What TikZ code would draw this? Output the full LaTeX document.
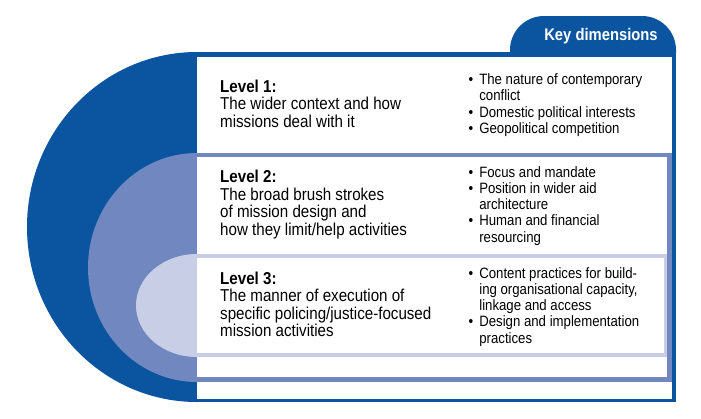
\documentclass[tikz,border=0pt]{standalone}
\usepackage{fontspec}
\setmainfont{Liberation Sans}[FakeStretch=0.88]
\usepackage{tikz}
\usetikzlibrary{positioning}
\definecolor{darkblue}{HTML}{0B55A0}
\definecolor{midblue}{HTML}{7087BF}
\definecolor{paleblue}{HTML}{C9CEE7}

\begin{document}
\begin{tikzpicture}[x=1pt, y=-1pt,
  level/.style={anchor=base west, inner sep=0pt, font=\fontsize{17.2}{17.1}\selectfont},
  dims/.style={anchor=base west, inner sep=0pt, font=\fontsize{15}{16.2}\selectfont},
  tab/.style={anchor=base, inner sep=0pt, text=white, font=\bfseries\fontsize{16.8}{18}\selectfont}
]
\useasboundingbox (0,0) rectangle (701,418);
% outer band (level 1)
\fill[darkblue] (197,227) ellipse [x radius=170pt, y radius=175pt];
\fill[darkblue] (197,52) rectangle (676,402);
\fill[darkblue] (510,53) [rounded corners=34pt] |- (676,16) [sharp corners] -- (676,53) -- cycle;
\fill[white] (197,57) rectangle (672,399);
% middle band (level 2)
\fill[midblue] (197,267.5) ellipse [x radius=109pt, y radius=114.5pt];
\fill[midblue] (197,153) rectangle (672,382);
\fill[white] (197,157) rectangle (667,377);
% inner band (level 3)
\fill[paleblue] (197,305.5) ellipse [x radius=61pt, y radius=51.5pt];
\fill[paleblue] (197,254) rectangle (667,357);
\fill[white] (197,258) rectangle (664,353);

\node[tab] (key) at (601,40.5) {Key dimensions};

\node[level] (lvlA) at (220,92.3) {\begin{tabular}[t]{@{}l@{}}
  \textbf{Level 1:}\\The wider context and how\\missions deal with it
\end{tabular}};
\node[level] (lvlB) at (220,182.7) {\begin{tabular}[t]{@{}l@{}}
  \textbf{Level 2:}\\The broad brush strokes\\of mission design and\\how they limit/help activities
\end{tabular}};
\node[level] (lvlC) at (220,284) {\begin{tabular}[t]{@{}l@{}}
  \textbf{Level 3:}\\The manner of execution of\\specific policing/justice-focused\\mission activities
\end{tabular}};

\node[dims] (dimA) at (468.5,84.7) {\begin{tabular}[t]{@{}l@{\hspace{6pt}}l@{}}
  \textbullet & The nature of contemporary\\ & conflict\\
  \textbullet & Domestic political interests\\
  \textbullet & Geopolitical competition
\end{tabular}};
\node[dims] (dimB) at (468.5,177.3) {\begin{tabular}[t]{@{}l@{\hspace{6pt}}l@{}}
  \textbullet & Focus and mandate\\
  \textbullet & Position in wider aid\\ & architecture\\
  \textbullet & Human and financial\\ & resourcing
\end{tabular}};
\node[dims] (dimC) at (468.5,278.3) {\begin{tabular}[t]{@{}l@{\hspace{6pt}}l@{}}
  \textbullet & Content practices for build-\\ & ing organisational capacity,\\ & linkage and access\\
  \textbullet & Design and implementation\\ & practices
\end{tabular}};
\end{tikzpicture}
\end{document}
